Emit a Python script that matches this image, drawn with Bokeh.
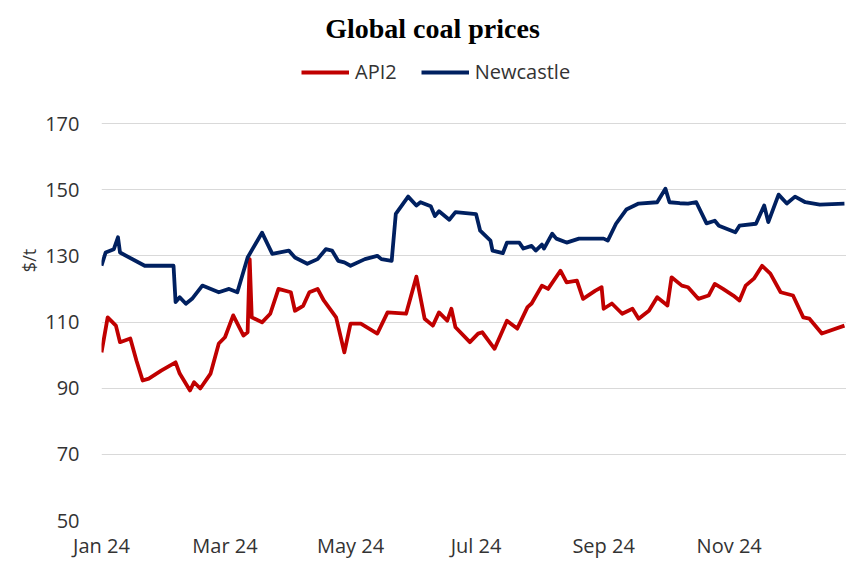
import pandas as pd
from bokeh.plotting import figure
from bokeh.models import FixedTicker, Legend, LegendItem, Range1d, Label
from bokeh.embed import file_html
from bokeh.resources import INLINE

# ---- data ----
newc_dates = ["2024-01-01", "2024-01-03", "2024-01-07", "2024-01-09", "2024-01-10", "2024-01-22",
              "2024-02-05", "2024-02-06", "2024-02-08", "2024-02-11", "2024-02-14", "2024-02-19",
              "2024-02-27", "2024-03-03", "2024-03-07", "2024-03-12", "2024-03-19", "2024-03-24",
              "2024-04-01", "2024-04-04", "2024-04-10", "2024-04-15", "2024-04-19", "2024-04-22",
              "2024-04-25", "2024-04-28", "2024-05-01", "2024-05-08", "2024-05-14", "2024-05-16",
              "2024-05-21", "2024-05-23", "2024-05-29", "2024-06-02", "2024-06-04", "2024-06-09",
              "2024-06-11", "2024-06-13", "2024-06-18", "2024-06-21", "2024-07-01", "2024-07-03",
              "2024-07-08", "2024-07-09", "2024-07-14", "2024-07-16", "2024-07-22", "2024-07-24",
              "2024-07-28", "2024-07-30", "2024-08-02", "2024-08-03", "2024-08-07", "2024-08-09",
              "2024-08-14", "2024-08-20", "2024-09-01", "2024-09-03", "2024-09-07", "2024-09-12",
              "2024-09-18", "2024-09-27", "2024-10-01", "2024-10-03", "2024-10-08", "2024-10-12",
              "2024-10-16", "2024-10-21", "2024-10-25", "2024-10-27", "2024-11-04", "2024-11-06",
              "2024-11-14", "2024-11-18", "2024-11-20", "2024-11-25", "2024-11-29", "2024-12-03",
              "2024-12-08", "2024-12-15", "2024-12-27"]
newc_values = [127.0, 131.0, 132.0, 135.6, 131.0, 127.0,
               127.0, 116.0, 117.5, 115.5, 117.0, 121.0,
               119.0, 120.0, 119.0, 129.5, 137.0, 130.6,
               131.6, 129.5, 127.6, 129.0, 132.0, 131.6,
               128.5, 128.0, 127.0, 129.0, 130.0, 129.0,
               128.5, 142.7, 147.9, 145.2, 146.2, 145.0,
               142.0, 143.5, 140.9, 143.2, 142.6, 137.6,
               134.6, 131.6, 130.8, 134.0, 134.0, 132.2,
               133.0, 131.6, 133.4, 132.2, 136.7, 135.2,
               134.0, 135.2, 135.2, 134.6, 139.7, 144.0,
               145.8, 146.2, 150.3, 146.2, 145.9, 145.8,
               146.2, 139.8, 140.6, 139.1, 137.1, 139.1,
               139.7, 145.2, 140.2, 148.5, 145.8, 147.9,
               146.2, 145.5, 145.8]

api2_dates = ["2024-01-01", "2024-01-04", "2024-01-08", "2024-01-10", "2024-01-15", "2024-01-18",
              "2024-01-21", "2024-01-24", "2024-01-30", "2024-02-06", "2024-02-08", "2024-02-13",
              "2024-02-15", "2024-02-18", "2024-02-23", "2024-02-27", "2024-03-01", "2024-03-05",
              "2024-03-10", "2024-03-12", "2024-03-13", "2024-03-14", "2024-03-19", "2024-03-23",
              "2024-03-27", "2024-04-02", "2024-04-04", "2024-04-08", "2024-04-11", "2024-04-15",
              "2024-04-18", "2024-04-24", "2024-04-28", "2024-05-01", "2024-05-06", "2024-05-14",
              "2024-05-19", "2024-05-28", "2024-06-02", "2024-06-06", "2024-06-10", "2024-06-13",
              "2024-06-17", "2024-06-19", "2024-06-21", "2024-06-28", "2024-07-02", "2024-07-04",
              "2024-07-10", "2024-07-16", "2024-07-21", "2024-07-26", "2024-07-28", "2024-08-02",
              "2024-08-05", "2024-08-11", "2024-08-14", "2024-08-19", "2024-08-22", "2024-08-28",
              "2024-08-31", "2024-09-01", "2024-09-05", "2024-09-10", "2024-09-15", "2024-09-18",
              "2024-09-23", "2024-09-27", "2024-10-02", "2024-10-04", "2024-10-09", "2024-10-12",
              "2024-10-17", "2024-10-22", "2024-10-25", "2024-10-29", "2024-11-03", "2024-11-06",
              "2024-11-09", "2024-11-13", "2024-11-17", "2024-11-21", "2024-11-26", "2024-12-02",
              "2024-12-07", "2024-12-10", "2024-12-16", "2024-12-27"]
api2_values = [100.8, 111.4, 108.9, 103.9, 105.0, 98.3,
               92.3, 92.9, 95.3, 97.8, 94.4, 89.3,
               91.8, 89.9, 94.4, 103.5, 105.4, 112.0,
               105.9, 106.9, 129.0, 111.4, 109.9, 112.5,
               120.0, 119.0, 113.4, 114.9, 119.0, 120.0,
               116.5, 111.4, 100.8, 109.5, 109.5, 106.5,
               112.9, 112.5, 123.7, 111.0, 108.9, 112.9,
               110.4, 114.0, 108.4, 103.9, 106.5, 106.9,
               101.9, 110.4, 108.0, 114.5, 115.6, 121.0,
               120.0, 125.5, 122.0, 122.5, 117.0, 119.5,
               120.5, 114.0, 115.6, 112.5, 114.0, 111.0,
               113.4, 117.5, 115.0, 123.5, 121.0, 120.5,
               117.0, 118.0, 121.5, 120.0, 118.0, 116.5,
               121.0, 123.1, 127.0, 124.6, 119.0, 118.0,
               111.4, 111.0, 106.5, 108.9]

tick_dates = ["2024-01-01", "2024-03-01", "2024-05-01", "2024-07-01", "2024-09-01", "2024-11-01"]
tick_labels = ["Jan 24", "Mar 24", "May 24", "Jul 24", "Sep 24", "Nov 24"]
y_ticks = [50, 70, 90, 110, 130, 150, 170]

title_text = "Global coal prices"
series_names = ["API2", "Newcastle"]
series_colors = ["#C00000", "#002060"]

FONT = "Open Sans"
TEXT = "#333333"


def ms(d):
    return pd.Timestamp(d).value / 1e6


# frame spans y = 0..520 px; the value axis 50..170 takes the lower 397 px,
# the space above 170 holds the title and the legend
PX_PER_UNIT = 397 / 120.0
y_top = 170 + 123 / PX_PER_UNIT

p = figure(width=846, height=561, x_axis_type="datetime", output_backend="svg",
           toolbar_location=None, min_border_left=101, min_border_right=0,
           min_border_top=0, min_border_bottom=41)
p.x_range = Range1d(ms("2024-01-01"), ms("2024-12-28"))
p.y_range = Range1d(50, y_top)

title = Label(x=331, y=492, x_units="screen", y_units="screen", text=title_text,
              text_font="Liberation Serif", text_font_size="28px", text_font_style="bold",
              text_color="black", text_align="center", text_baseline="alphabetic")
p.add_layout(title)

r_api = p.line(pd.to_datetime(api2_dates), api2_values, color=series_colors[0],
               line_width=3.8, line_join="round")
r_new = p.line(pd.to_datetime(newc_dates), newc_values, color=series_colors[1],
               line_width=3.8, line_join="round")

legend = Legend(items=[LegendItem(label=series_names[0], renderers=[r_api]),
                       LegendItem(label=series_names[1], renderers=[r_new])],
                orientation="horizontal", location=(200, 435),
                padding=0, margin=0, spacing=24, label_standoff=6,
                glyph_width=48, glyph_height=20, label_height=20,
                background_fill_alpha=0, border_line_alpha=0,
                label_text_font=FONT, label_text_font_size="20px",
                label_text_color=TEXT)
p.add_layout(legend, "center")

# x axis
xt = [ms(d) for d in tick_dates]
p.xaxis.ticker = FixedTicker(ticks=xt)
p.xaxis.major_label_overrides = {t: lab for t, lab in zip(xt, tick_labels)}
p.xaxis.major_tick_line_color = None
p.xaxis.minor_tick_line_color = None
p.xaxis.axis_line_color = None
p.xaxis.major_label_standoff = 5
p.xaxis.major_label_text_font = FONT
p.xaxis.major_label_text_font_size = "20px"
p.xaxis.major_label_text_color = TEXT

# y axis
p.yaxis.ticker = FixedTicker(ticks=y_ticks)
p.yaxis.major_tick_line_color = None
p.yaxis.minor_tick_line_color = None
p.yaxis.axis_line_color = None
p.yaxis.major_label_standoff = 16
p.yaxis.major_label_text_font = FONT
p.yaxis.major_label_text_font_size = "20px"
p.yaxis.major_label_text_color = TEXT
p.yaxis.axis_label = "$/t"
p.yaxis.axis_label_text_font = FONT
p.yaxis.axis_label_text_font_size = "18px"
p.yaxis.axis_label_text_font_style = "normal"
p.yaxis.axis_label_text_color = TEXT
p.yaxis.axis_label_standoff = 1

p.xgrid.grid_line_color = None
p.ygrid.grid_line_color = "#D9D9D9"
p.ygrid.grid_line_width = 1.2
p.outline_line_color = None

open("out.html", "w").write(file_html(p, INLINE))
